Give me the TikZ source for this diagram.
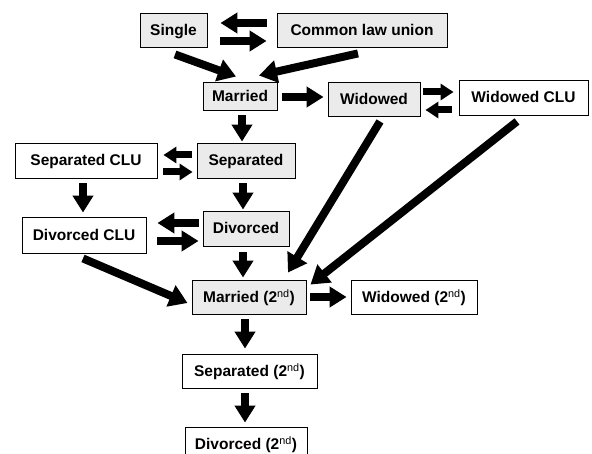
\documentclass[tikz,border=0pt]{standalone}
\usepackage{fontspec}
\setmainfont{Liberation Sans}
\usetikzlibrary{arrows.meta,calc}
\definecolor{boxgray}{HTML}{EBEBEB}
\tikzset{
  box/.style={draw=black, line width=0.9pt, inner sep=0pt, text height=11pt, text depth=0pt, font=\fontsize{15.5}{18}\selectfont\bfseries},
  gbox/.style={box, fill=boxgray},
  wbox/.style={box, fill=white},
  blk/.style={line width=8pt, -{Triangle[width=20pt,length=17pt]}},
  sblk/.style={line width=7pt, -{Triangle[width=16pt,length=13pt]}},
  dblk/.style={line width=8pt, -{Triangle[width=22pt,length=18pt]}},
}
\newcommand{\nd}{{\mdseries\textsuperscript{nd}}}
\begin{document}
\begin{tikzpicture}[x=1pt,y=-1pt]
\clip (0,0) rectangle (592,454);
\fill[white] (0,0) rectangle (592,454);
% nodes
\node[gbox, minimum width=67pt, minimum height=34pt] (single) at (173.5,30) {Single};
\node[gbox, minimum width=170pt, minimum height=34pt] (clu) at (362,30) {Common law union};
\node[gbox, minimum width=74pt, minimum height=28pt] (married) at (240,96) {Married};
\node[gbox, minimum width=92pt, minimum height=34pt] (widowed) at (374,99) {Widowed};
\node[wbox, minimum width=129pt, minimum height=35pt] (widclu) at (523.5,97.5) {Widowed CLU};
\node[wbox, minimum width=142pt, minimum height=35pt] (sepclu) at (86,160.5) {Separated CLU};
\node[gbox, minimum width=98pt, minimum height=35pt] (sep) at (246,160.5) {Separated};
\node[wbox, minimum width=124pt, minimum height=36pt] (divclu) at (84,235) {Divorced CLU};
\node[gbox, minimum width=86pt, minimum height=35pt] (div) at (246,228.5) {Divorced};
\node[gbox, minimum width=114pt, minimum height=34pt] (mtwo) at (249,297) {Married (2\nd)};
\node[wbox, minimum width=126pt, minimum height=34pt] (wtwo) at (414,297) {Widowed (2\nd)};
\node[wbox, minimum width=135pt, minimum height=34pt] (stwo) at (249.5,371) {Separated (2\nd)};
\node[wbox, minimum width=122pt, minimum height=34pt] (dtwo) at (246,444) {Divorced (2\nd)};
% vertical arrows
\draw[blk] ($(married.south)+(2,5)$) -- ($(sep.north)+(-4,-1)$);
\draw[blk] ($(sep.south)+(-3,5)$) -- ($(div.north)+(-3,-1)$);
\draw[blk] ($(div.south)+(-3,6)$) -- ($(mtwo.north)+(-6,-2)$);
\draw[blk] ($(mtwo.south)+(-4,5)$) -- ($(stwo.north)+(-4.5,-5)$);
\draw[blk] ($(stwo.south)+(-4.5,5)$) -- ($(dtwo.north)+(-1,-4)$);
\draw[blk] ($(sepclu.south)+(-3,5)$) -- ($(divclu.north)+(-1,-4)$);
% horizontal arrows
\draw[blk] ($(married.east)+(5,1)$) -- ($(widowed.west)+(-4,-2)$);
\draw[sblk] ($(widowed.east)+(3,-7)$) -- ($(widclu.west)+(-5,-5.5)$);
\draw[sblk] ($(widclu.west)+(-7,12.5)$) -- ($(widowed.east)+(5,11)$);
\draw[sblk] ($(sep.west)+(-5,-5.5)$) -- ($(sepclu.east)+(6,-5.5)$);
\draw[sblk] ($(sepclu.east)+(6,11.5)$) -- ($(sep.west)+(-4,11.5)$);
\draw[blk] ($(div.west)+(-4,-5.5)$) -- ($(divclu.east)+(11,-12)$);
\draw[blk] ($(divclu.east)+(11,6)$) -- ($(div.west)+(-4,12.5)$);
\draw[blk] ($(clu.west)+(-10,-7)$) -- ($(single.east)+(13,-7)$);
\draw[blk] ($(single.east)+(13,11)$) -- ($(clu.west)+(-10,11)$);
\draw[blk] ($(mtwo.east)+(4,0)$) -- ($(wtwo.west)+(-4,0)$);
% diagonal arrows
\draw[dblk] ($(single.south)+(1.5,7)$) -- ($(married.north)+(-4,-5)$);
\draw[dblk] ($(clu.south)+(-4,6)$) -- ($(married.north)+(19,-6)$);
\draw[dblk] ($(widowed.south)+(6,5)$) -- ($(mtwo.north)+(39,-7)$);
\draw[dblk] ($(widclu.south)+(-6.5,6)$) -- ($(mtwo.north east)+(4,5)$);
\draw[dblk] ($(divclu.south)+(-1,5)$) -- ($(mtwo.west)+(-4,6)$);
\end{tikzpicture}
\end{document}
